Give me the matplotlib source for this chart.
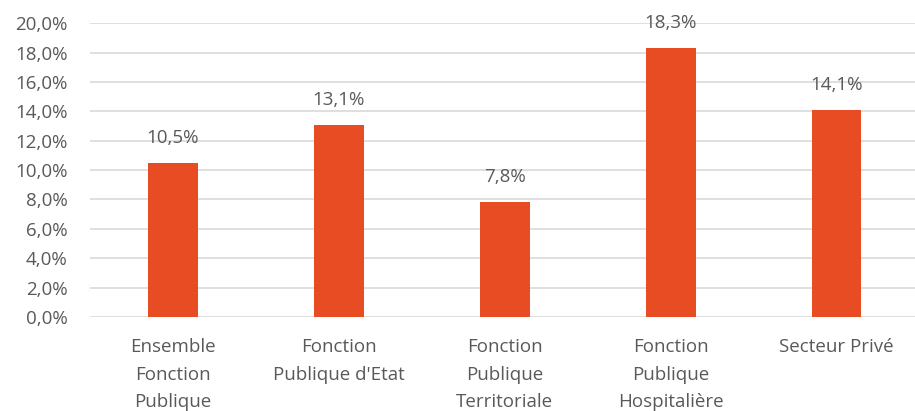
import matplotlib.pyplot as plt
from matplotlib.ticker import FuncFormatter

# Taux par secteur (en %)
categories = ["Ensemble\nFonction\nPublique", "Fonction\nPublique d'Etat",
              "Fonction\nPublique\nTerritoriale", "Fonction\nPublique\nHospitalière",
              "Secteur Privé"]
values = [10.5, 13.1, 7.8, 18.3, 14.1]
yticks = [0, 2, 4, 6, 8, 10, 12, 14, 16, 18, 20]

bar_color = '#E84C22'
text_color = '#595959'
grid_color = '#D9D9D9'

plt.rcParams['font.family'] = ['Open Sans', 'DejaVu Sans']

fig = plt.figure(figsize=(9.15, 4.11), dpi=100)
ax = fig.add_axes([0.098, 0.2287, 0.907, 0.715])

x = range(len(categories))
bars = ax.bar(x, values, width=0.30, color=bar_color, zorder=3)

for xi, v in zip(x, values):
    ax.annotate(f"{v:.1f}%".replace('.', ','), (xi, v), xytext=(0, 18),
                textcoords='offset points', ha='center', va='center',
                fontsize=13.5, color=text_color)

ax.set_xlim(-0.5, len(categories) - 0.5)
ax.set_ylim(0, 20)
ax.set_yticks(yticks)
ax.yaxis.set_major_formatter(FuncFormatter(lambda v, p: f"{v:.1f}%".replace('.', ',')))
ax.set_xticks(list(x))
ax.set_xticklabels(categories, linespacing=1.7)

ax.grid(axis='y', color=grid_color, linewidth=1.2, zorder=0)
for s in ax.spines.values():
    s.set_visible(False)
ax.tick_params(axis='both', length=0, labelsize=13.5, labelcolor=text_color)
ax.tick_params(axis='y', pad=16)
ax.tick_params(axis='x', pad=15)

fig.savefig('out.png', dpi=100)
